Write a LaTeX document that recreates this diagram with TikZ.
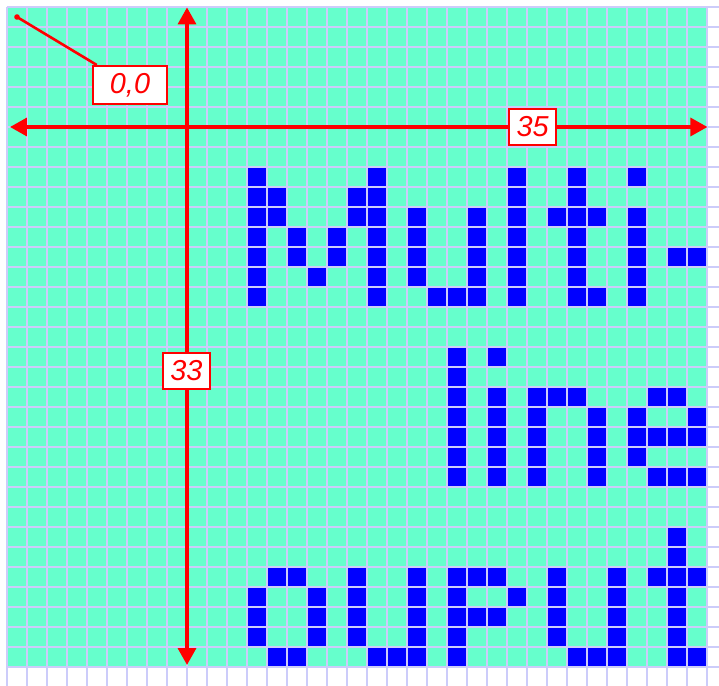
\documentclass[tikz,border=0pt]{standalone}
\usepackage{fontspec}
\setmainfont{Liberation Sans}
\usetikzlibrary{arrows.meta}
\definecolor{cellgreen}{RGB}{102,255,204}
\definecolor{gridlav}{RGB}{204,204,250}
\definecolor{pixblue}{RGB}{0,0,255}
\begin{document}
\begin{tikzpicture}[x=1cm, y=-1cm,
        gridline/.style={gridlav, line width=0.1cm},
        lit/.style={fill=pixblue},
        axis/.style={red, line width=0.17cm, {Triangle[length=0.85cm, width=0.9cm]}-{Triangle[length=0.85cm, width=0.9cm]}},
        leader/.style={red, line width=0.13cm},
        tag/.style={draw=red, fill=white, text=red, line width=0.1cm, inner sep=0pt,
            minimum width=2.35cm, minimum height=1.8cm,
            font=\fontsize{41}{41}\selectfont\itshape}]
        % Page and cell area
        \useasboundingbox (-0.35,-0.35) rectangle (35.6,33.95);
        \fill[white] (-0.35,-0.35) rectangle (35.6,33.95);
        \fill[cellgreen] (0,0) rectangle (35,33);
        % Draw the grid
        \foreach \i in {0,...,35}
            \draw[gridline] (\i,0) -- (\i,33.95);
        \foreach \j in {0,...,33}
            \draw[gridline] (0,\j) -- (35.6,\j);
        % Lit pixels, as column/first row/last row
        \foreach \c/\ra/\rb in {12/8/14, 13/9/10, 14/11/12, 15/13/13, 16/11/12, 17/9/10, 18/8/14,
                20/10/13, 21/14/14, 22/14/14, 23/10/14,
                25/8/14,
                27/10/10, 28/8/14, 29/10/10, 29/14/14,
                31/8/8, 31/10/14,
                33/12/12, 34/12/12,
                22/17/23,
                24/17/17, 24/19/23,
                26/19/23, 27/19/19, 28/19/19, 29/20/23,
                31/20/22, 32/19/19, 33/19/19, 34/20/21, 32/21/21, 33/21/21, 32/23/23, 33/23/23, 34/23/23,
                12/29/31, 13/28/28, 13/32/32, 14/28/28, 14/32/32, 15/29/31,
                17/28/31, 18/32/32, 19/32/32, 20/28/32,
                22/28/32, 23/28/28, 23/30/30, 24/28/28, 24/30/30, 25/29/29,
                27/28/31, 28/32/32, 29/32/32, 30/28/32,
                33/26/32, 32/28/28, 34/28/28, 34/32/32}
            \foreach \r in {\ra,...,\rb}
                \fill[lit] (\c+0.06,\r+0.06) rectangle (\c+0.94,\r+0.94);
        % Axes
        \coordinate (xl) at (0.15,6);
        \coordinate (xr) at (35.02,6);
        \coordinate (yt) at (9,0.02);
        \coordinate (yb) at (9,32.9);
        \draw[axis] (xl) -- (xr);
        \draw[axis] (yt) -- (yb);
        \node[tag] (wd) at (26.28,6) {35};
        \node[tag] (ht) at (8.97,18.2) {33};
        % Origin mark
        \coordinate (origin) at (0.5,0.5);
        \node[tag, minimum width=3.7cm, minimum height=1.9cm] (orglbl) at (6.15,3.9) {0,0};
        \draw[leader] (origin) -- (orglbl);
        \fill[red] (origin) circle (0.14);
\end{tikzpicture}
\end{document}
